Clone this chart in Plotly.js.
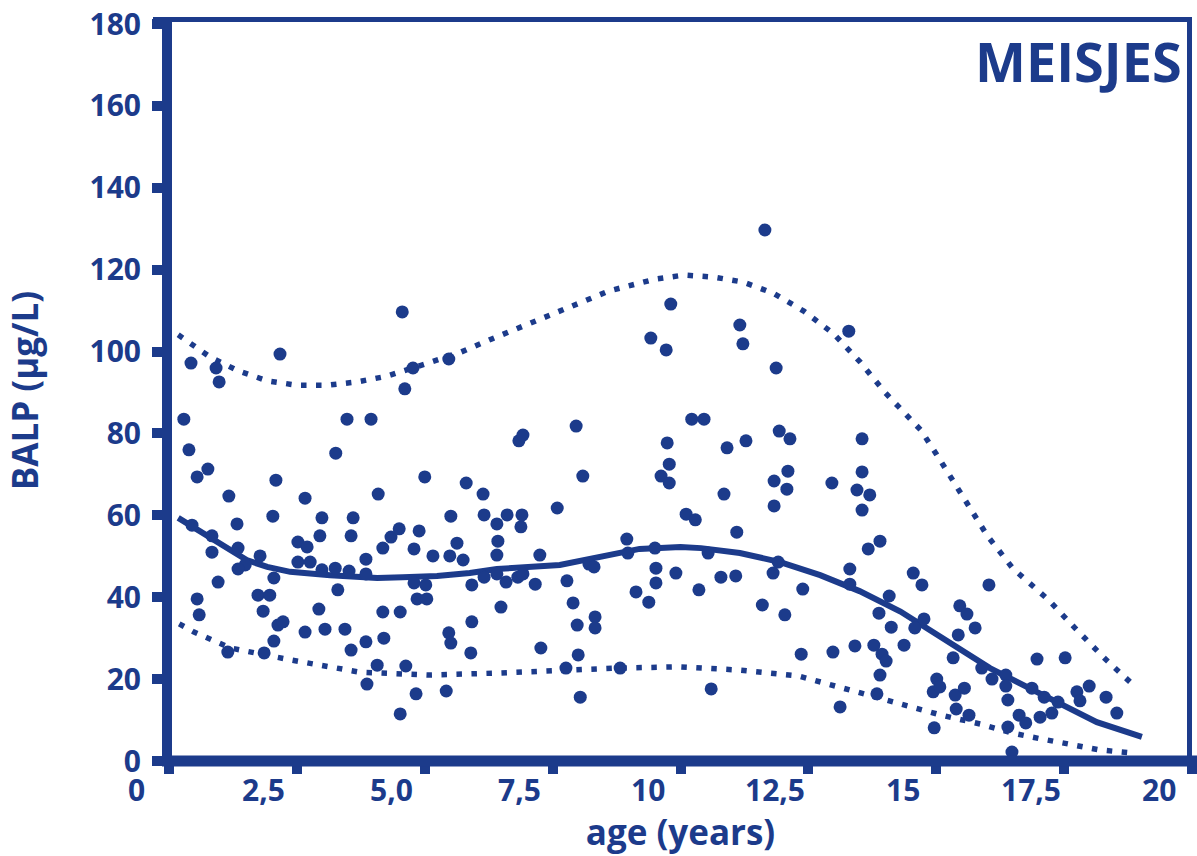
<!DOCTYPE html>
<html>
<head>
<meta charset="utf-8">
<script src="https://cdn.plot.ly/plotly-3.0.1.min.js"></script>
<style>
html,body{margin:0;padding:0;background:#fff;}
#chart{width:1197px;height:856px;}
</style>
</head>
<body>
<div id="chart"></div>
<script>
// ---- data ----
const pointAge = [
0.43,0.92,0.98,2.17,4.56,4.77,5.47,4.61,0.29,3.48,3.95,0.39,3.26,0.55,0.76,5.00,1.17,2.09,2.66,4.09,
5.81,6.14,5.51,6.16,0.45,1.33,2.03,2.99,3.60,6.41,0.84,0.84,1.35,2.52,2.70,2.95,3.56,4.34,4.50,4.89,
5.63,6.41,6.41,6.16,1.49,1.35,1.78,2.52,2.76,2.99,3.25,3.52,3.85,3.85,4.18,4.79,5.16,5.49,5.75,4.79,
5.02,5.92,0.96,2.05,3.30,0.55,1.74,1.97,4.85,5.04,
0.59,1.15,1.84,1.86,2.05,2.13,2.23,2.66,2.93,3.05,3.44,3.56,3.85,3.87,4.07,4.18,4.20,4.52,4.52,4.63,
4.83,5.42,5.47,5.51,5.90,5.92,6.49,
6.43,6.59,6.61,6.82,6.84,6.88,6.92,6.90,6.92,7.16,7.25,7.27,7.59,7.76,7.78,7.90,7.96,7.98,8.00,8.04,
8.09,8.21,8.31,8.33,8.33,8.82,8.95,8.97,9.13,9.38,9.42,9.50,9.52,9.52,9.62,9.72,9.74,9.78,9.81,9.91,
9.78,10.11,10.22,10.29,10.36,10.46,10.54,10.60,10.79,10.85,10.91,11.08,11.10,11.16,11.22,11.28,11.60,11.65,11.81,11.87,
11.83,11.83,11.91,11.93,12.04,12.14,12.10,12.08,12.36,12.39,12.96,12.98,13.12,
13.29,13.31,13.31,13.41,13.45,13.55,13.55,13.55,13.67,13.70,13.78,13.84,13.90,13.88,13.90,13.94,14.02,14.08,14.12,14.37,
14.55,14.58,14.72,14.76,14.94,14.96,15.01,15.07,
15.46,15.60,15.76,15.43,15.33,15.89,16.09,16.36,16.36,16.40,16.97,17.52,16.87,17.11,17.38,17.26,17.03,17.75,17.81,17.99,
18.32,18.53,16.62,16.75,16.40,16.48,15.37,15.55,15.39,15.64,16.03
];
const pointBalp = [
97.2,96.0,92.6,99.4,109.7,96.0,98.2,90.9,83.5,83.5,83.5,76.0,75.2,69.4,71.3,69.4,64.7,68.6,64.2,65.2,
67.9,65.2,59.8,60.1,57.6,57.9,59.8,59.4,59.4,57.9,55.0,51.0,52.0,53.5,52.3,55.0,55.0,54.7,56.7,56.2,
53.2,50.3,45.7,44.9,47.9,46.9,50.1,48.6,48.6,46.7,47.1,46.4,49.3,45.7,52.0,51.8,50.1,50.1,49.1,43.5,
43.0,43.0,43.7,44.7,41.8,39.6,40.5,40.5,39.6,39.6,
35.7,26.6,36.6,26.4,29.3,33.2,34.0,31.5,37.1,32.2,32.2,27.1,29.1,18.8,23.4,36.4,30.0,36.4,11.5,23.2,
16.4,17.1,31.3,28.8,26.4,34.0,37.6,
53.7,43.7,60.1,44.9,78.2,57.2,79.6,60.1,45.7,43.2,50.3,27.6,61.8,22.7,44.0,38.6,81.8,33.2,25.9,15.6,
69.6,48.1,47.4,35.2,32.5,22.7,54.2,50.8,41.3,38.8,103.3,52.0,47.1,43.5,69.6,100.4,77.7,72.5,111.6,45.9,
67.9,60.3,83.5,58.9,41.8,83.5,50.8,17.6,44.9,65.2,76.5,45.2,55.9,106.5,101.9,78.2,38.1,129.7,45.9,96.0,
68.4,62.3,48.6,80.6,35.7,78.7,70.8,66.4,26.1,42.0,67.9,26.6,13.2,
105.0,46.9,43.2,28.1,66.2,78.7,70.6,61.3,51.8,65.0,28.3,16.4,53.7,36.1,21.0,26.1,24.4,40.3,32.7,28.3,
45.9,32.5,43.0,34.7,16.9,8.1,20.0,18.1,
37.9,35.9,32.5,30.8,25.2,22.7,20.0,21.0,18.3,14.9,24.9,25.2,17.8,15.6,14.4,11.7,10.7,16.9,14.7,18.3,
15.6,11.7,11.2,9.3,8.3,2.2,16.1,17.8,12.7,11.2,43.0
];

const meanAge  = [0.18,0.84,1.52,1.92,2.37,3.15,4.07,4.57,5.24,5.88,6.41,7.64,8.43,9.2,10.0,10.4,11.16,11.95,12.73,13.5,14.3,15.07,15.27,16.05,17.09,18.14,19.02];
const meanBalp = [59.4,54.5,49.1,47.4,46.2,45.4,44.7,44.9,45.2,45.9,46.9,47.9,50.0,51.8,52.3,52.0,50.8,48.6,45.4,41.5,36.5,30.5,28.8,22.7,16.1,9.5,5.9];

const upperAge  = [0.18,0.5,0.8,1.35,1.94,2.5,3.11,3.68,4.26,5.14,5.71,6.31,7.0,7.74,8.6,9.5,10.07,10.65,11.22,11.81,12.41,12.98,13.51,14.0,14.7,15.0,15.5,16.0,16.5,17.2,17.71,18.28,18.85];
const upperBalp = [104.1,101.5,98.7,95.3,92.8,91.8,91.8,92.6,94.0,97.5,99.9,103.1,106.6,110.6,114.8,117.7,118.7,118.2,117.0,114.3,109.9,104.5,97.5,90.0,80.8,75.0,65.0,55.0,47.0,39.3,32.5,25.2,18.6];

const lowerAge  = [0.2,0.49,1.2,2.37,3.73,5.1,6.47,7.6,8.8,10.0,11.16,12.3,13.3,14.3,15.1,15.87,16.5,17.05,17.61,18.2,18.79];
const lowerBalp = [33.5,31.5,27.6,24.7,21.7,21.0,21.5,22.2,22.7,23.0,22.2,20.8,17.3,13.7,11.2,9.0,6.8,5.4,4.2,2.7,2.0];

const xTickVals = [0,2.5,5,7.5,10,12.5,15,17.5,20];
const xTickText = ['0','2,5','5,0','7,5','10','12,5','15','17,5','20'];
const yTickVals = [0,20,40,60,80,100,120,140,160,180];

const chartTitle = 'MEISJES';
const xTitle = 'age (years)';
const yTitle = 'BALP (µg/L)';

// ---- styling ----
const C = '#1c3b8b';
const FONT = 'Open Sans, Noto Sans, sans-serif';

const traces = [
  {x: upperAge, y: upperBalp, mode: 'lines', line: {color: C, width: 5.5, dash: '5.5px,9.5px'}, hoverinfo: 'skip'},
  {x: lowerAge, y: lowerBalp, mode: 'lines', line: {color: C, width: 5.5, dash: '5.5px,9.5px'}, hoverinfo: 'skip'},
  {x: meanAge, y: meanBalp, mode: 'lines', line: {color: C, width: 6}, hoverinfo: 'skip'},
  {x: pointAge, y: pointBalp, mode: 'markers', marker: {color: C, size: 13, line: {width: 0}}}
];

const L = 169, R = 1197-1192, T = 20, B = 856-761;
const pw = 1197-L-R, ph = 856-T-B;
const px = v => (v - L)/pw;
const py = v => (761 - v)/ph;

const annotations = xTickVals.map((v, i) => ({
  x: v, xref: 'x', y: py(767), yref: 'paper', yanchor: 'top', xanchor: 'center',
  xshift: -33, text: xTickText[i], showarrow: false,
  font: {family: FONT, size: 30, color: C, weight: 700}
}));
annotations.push({
  x: px(1184), xref: 'paper', y: py(22), yref: 'paper', showarrow: false,
  text: chartTitle, xanchor: 'right', yanchor: 'top',
  font: {family: FONT, size: 54, color: C, weight: 700}
});

const shapes = [
  {type:'line', xref:'paper', yref:'paper', x0: px(162), x1: px(1197), y0: py(761), y1: py(761), line:{color:C, width:11}},
  {type:'line', xref:'paper', yref:'paper', x0: px(167), x1: px(167), y0: py(766), y1: py(17), line:{color:C, width:10}},
  {type:'line', xref:'paper', yref:'paper', x0: px(153), x1: px(1192), y0: py(19.5), y1: py(19.5), line:{color:C, width:5}},
  {type:'line', xref:'paper', yref:'paper', x0: px(1189.5), x1: px(1189.5), y0: py(761), y1: py(17), line:{color:C, width:5}}
];

const layout = {
  width: 1197, height: 856,
  margin: {l: L, r: R, t: T, b: B, pad: 0},
  paper_bgcolor: '#fff', plot_bgcolor: '#fff',
  showlegend: false,
  font: {family: FONT, color: C},
  xaxis: {
    range: [0, 20], tickvals: xTickVals, showticklabels: false,
    ticks: 'outside', ticklen: 12, tickwidth: 10, tickcolor: C,
    showgrid: false, zeroline: false, showline: false, fixedrange: true,
    title: {text: xTitle, font: {family: FONT, size: 35, color: C, weight: 700}, standoff: 47}
  },
  yaxis: {
    range: [0, 181], tickvals: yTickVals,
    ticks: 'outside', ticklen: 16, tickwidth: 10, tickcolor: C,
    ticklabelstandoff: 5,
    tickfont: {family: FONT, size: 30, color: C, weight: 700},
    showgrid: false, zeroline: false, showline: false, fixedrange: true,
    title: {text: yTitle, font: {family: FONT, size: 35, color: C, weight: 700}, standoff: 40}
  },
  shapes: shapes,
  annotations: annotations
};

Plotly.newPlot('chart', traces, layout, {displayModeBar: false, staticPlot: true});
</script>
</body>
</html>
